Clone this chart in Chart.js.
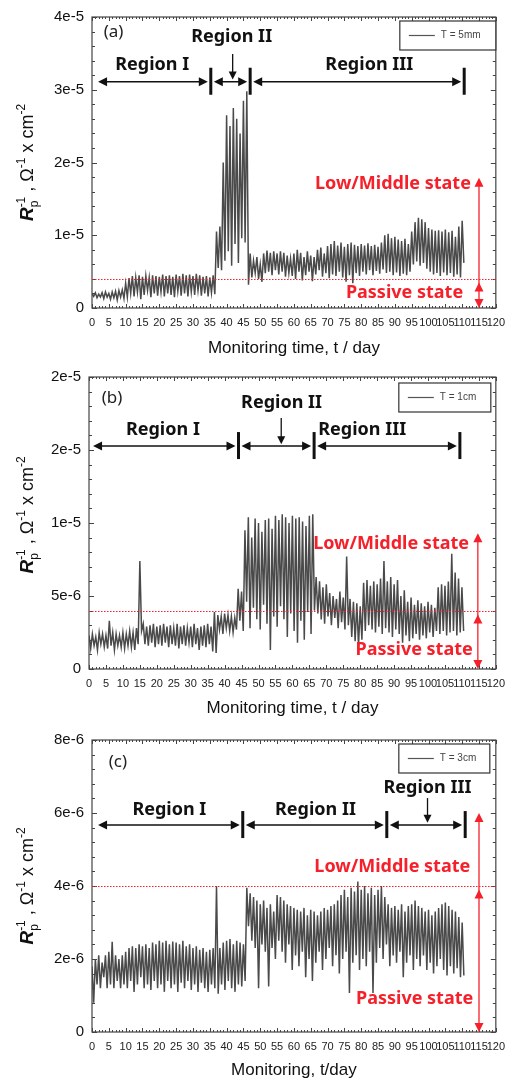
<!DOCTYPE html>
<html>
<head>
<meta charset="utf-8">
<script src="https://cdn.jsdelivr.net/npm/chart.js@4.4.0/dist/chart.umd.min.js"></script>
<style>
  html, body { margin: 0; padding: 0; background: #fff; }
  canvas { display: block; }
</style>
</head>
<body>
<canvas id="chartA" width="513" height="360"></canvas>
<canvas id="chartB" width="513" height="360"></canvas>
<canvas id="chartC" width="513" height="362"></canvas>
<script>
// monitoring day of each daily max / min reading
const days = [
  0, 1, 2, 3, 4, 5, 6, 7, 8, 9, 10, 11, 12, 13, 14, 15, 16, 17, 18, 19,
  20, 21, 22, 23, 24, 25, 26, 27, 28, 29, 30, 31, 32, 33, 34, 35, 36, 37, 38, 39,
  40, 41, 42, 43, 44, 45, 46, 47, 48, 49, 50, 51, 52, 53, 54, 55, 56, 57, 58, 59,
  60, 61, 62, 63, 64, 65, 66, 67, 68, 69, 70, 71, 72, 73, 74, 75, 76, 77, 78, 79,
  80, 81, 82, 83, 84, 85, 86, 87, 88, 89, 90, 91, 92, 93, 94, 95, 96, 97, 98, 99,
  100, 101, 102, 103, 104, 105, 106, 107, 108, 109, 110
];

// Rp^-1 values, in units of 1e-6 ohm^-1 cm^-2
const highA = [
  2.0, 2.1, 1.9, 2.1, 2.2, 2.0, 2.2, 2.3, 2.4, 2.5,
  3.4, 4.1, 4.4, 4.2, 4.5, 4.3, 4.4, 4.2, 4.5, 4.4,
  4.3, 4.6, 4.4, 4.5, 4.3, 4.6, 4.4, 4.7, 4.5, 4.6,
  4.4, 4.7, 4.5, 4.3, 4.4, 4.2, 4.5, 10.5, 11.2, 20.0,
  26.5, 25.0, 27.5, 26.0, 24.0, 28.5, 29.8, 7.5, 6.5, 7.0,
  6.0, 7.5, 7.9, 7.6, 7.8, 7.5, 7.8, 7.6, 7.2, 6.8,
  7.5, 8.0, 7.6, 7.0, 7.8, 7.2, 7.0, 8.0, 8.3, 7.5,
  8.5, 8.8, 9.2, 8.6, 9.0, 8.4, 8.8, 9.0, 8.7, 8.5,
  8.8, 8.6, 8.9, 8.5, 8.7, 8.4, 9.0, 10.0, 10.2, 9.6,
  9.8, 9.4, 9.2, 9.5, 8.8, 10.5, 11.8, 12.4, 12.2, 11.8,
  11.0, 10.8, 10.6, 10.7, 10.5, 10.8, 10.4, 10.6, 9.8, 11.2,
  12.0
];
const lowA = [
  1.6, 1.4, 1.5, 1.3, 1.5, 1.2, 1.4, 1.1, 1.5, 1.3,
  1.5, 2.0, 1.6, 2.2, 1.2, 1.8, 2.4, 1.5, 2.0, 1.7,
  2.2, 1.6, 2.0, 1.8, 1.5, 2.3, 1.7, 2.0, 1.6, 2.2,
  1.8, 2.4, 1.7, 2.0, 1.6, 2.1, 1.9, 5.5, 5.2, 6.5,
  7.8, 5.8, 8.8, 6.2, 9.6, 9.0, 3.2, 4.2, 4.8, 4.0,
  3.6, 4.8, 5.0, 4.5, 5.2, 4.6, 5.0, 4.3, 4.8, 4.4,
  4.0, 5.0, 3.8, 4.5, 5.0, 3.7, 4.6, 5.2, 4.3, 4.8,
  4.1, 4.6, 4.4, 5.0, 4.2, 3.6, 4.5, 3.4, 4.8, 4.4,
  5.0, 4.6, 5.2, 4.5, 5.1, 4.7, 5.3, 4.8, 5.0, 4.5,
  4.9, 4.4, 4.7, 4.5, 5.0, 6.0, 6.4, 5.8, 6.2, 5.4,
  5.0, 4.6, 4.8, 4.4, 4.9, 4.5, 4.8, 4.3, 4.6, 4.2,
  6.2
];
const highB = [
  2.3, 2.4, 2.2, 2.5, 2.4, 2.3, 3.3, 2.5, 2.4, 2.3,
  2.5, 2.4, 2.6, 2.5, 2.8, 7.4, 3.1, 2.9, 3.0, 3.1,
  2.9, 3.0, 3.1, 2.9, 3.0, 2.8, 3.1, 2.9, 3.0, 2.8,
  2.9, 3.1, 2.8, 2.9, 3.0, 3.1, 2.9, 3.9, 3.7, 3.6,
  3.8, 3.7, 3.6, 3.5, 5.5, 5.3, 9.5, 10.4, 9.0, 10.3,
  10.0, 9.4, 10.2, 10.3, 9.6, 10.5, 10.2, 10.6, 10.4, 10.0,
  10.5, 10.3, 10.4, 10.1, 9.8, 10.5, 10.6, 6.3, 6.0, 5.6,
  5.8, 5.2, 5.0, 4.8, 5.3, 4.9, 7.7, 4.8, 4.6, 4.5,
  4.3, 5.9, 6.1, 5.7, 6.0, 5.8, 6.2, 7.4, 6.0, 6.3,
  5.8, 6.1, 5.0, 5.4, 4.6, 4.9, 4.4, 4.7, 4.5, 4.3,
  4.6, 4.4, 4.2, 5.6, 5.8, 5.7, 6.0, 7.9, 6.6, 6.2,
  5.6
];
const lowB = [
  1.4, 1.6, 1.3, 1.7, 1.5, 1.4, 1.6, 1.3, 1.6, 1.5,
  1.4, 1.6, 1.5, 1.3, 1.7, 2.6, 1.7, 1.6, 1.8, 1.5,
  1.7, 1.6, 1.8, 1.5, 1.7, 1.6, 1.4, 1.7, 1.6, 1.8,
  1.5, 1.7, 1.3, 1.6, 1.5, 1.7, 1.2, 1.1, 2.7, 2.4,
  2.8, 2.6, 2.5, 2.7, 3.3, 2.6, 4.6, 2.8, 4.2, 3.4,
  2.7, 4.4, 3.1, 1.3, 3.6, 2.9, 4.3, 3.4, 2.2, 3.8,
  2.6, 1.8, 3.3, 2.0, 3.9, 2.4, 4.0, 3.8, 3.4, 3.1,
  3.6, 3.0, 3.5, 2.8, 3.2, 2.7, 3.0, 2.2, 1.9, 1.6,
  2.0, 2.6, 3.0, 2.7, 2.5, 2.9, 2.4, 2.8, 2.5, 2.2,
  2.7, 2.4, 1.8, 2.3, 1.9, 2.1, 2.4, 2.0, 2.3, 2.1,
  2.5, 2.2, 2.6, 2.4, 2.6, 2.3, 2.5, 2.6, 2.3, 2.5,
  2.6
];
const highC = [
  1.8, 2.0, 2.1, 1.9, 2.1, 2.2, 2.47, 2.1, 2.0, 2.1,
  2.2, 2.3, 2.35, 2.3, 2.4, 2.35, 2.4, 2.3, 2.45, 2.4,
  2.5, 2.45, 2.5, 2.4, 2.48, 2.45, 2.4, 2.5, 2.35, 2.4,
  2.3, 2.35, 2.25, 2.3, 2.2, 2.25, 2.3, 4.0, 2.3, 2.45,
  2.5, 2.55, 2.4, 2.5, 2.45, 2.4, 3.95, 3.8, 3.7, 3.6,
  3.5, 3.6, 3.4, 3.5, 3.3, 3.75, 3.7, 3.6, 3.5, 3.45,
  3.4, 3.35, 3.3, 3.4, 3.2, 3.35, 3.3, 3.2, 3.3, 3.4,
  3.35, 3.45, 3.5, 3.6, 3.75, 3.9, 3.7, 3.95, 3.85, 4.12,
  3.9, 4.0, 3.8, 3.95, 3.75, 3.9, 4.0, 3.7, 3.5, 3.4,
  3.45, 3.35, 3.5, 3.3, 3.45, 3.5, 3.6, 3.45, 3.4, 3.3,
  3.35, 3.2, 3.3, 3.4, 3.5, 3.55, 3.45, 3.35, 3.3, 3.15,
  3.0
];
const lowC = [
  0.8, 1.3, 1.2, 1.5, 1.2, 1.3, 1.2, 1.4, 1.2, 1.3,
  1.2, 1.4, 1.1, 1.3, 1.5, 1.2, 1.3, 1.15, 1.4, 1.2,
  1.3, 1.1, 1.4, 1.2, 1.3, 1.1, 1.35, 1.2, 1.4, 1.15,
  1.3, 1.1, 1.35, 1.2, 1.1, 1.3, 1.2, 1.05, 1.3, 1.15,
  1.4, 1.2, 1.1, 1.3, 1.25, 1.4, 2.9, 2.5, 2.3, 1.2,
  2.4, 2.2, 1.25, 2.3, 2.0, 2.5, 2.2, 1.9, 2.4, 1.7,
  2.1, 1.8, 2.2, 1.5, 2.0, 1.4, 1.9, 2.2, 1.7, 2.0,
  2.3, 1.8, 2.1, 1.6, 2.0, 2.2, 1.07, 1.9, 2.1, 1.7,
  2.0, 1.8, 2.2, 1.07, 1.9, 2.3, 2.0, 2.4, 1.8, 2.1,
  1.9, 2.2, 1.5, 1.9, 2.1, 1.7, 2.0, 1.8, 2.1, 1.7,
  1.9, 1.6, 1.8, 2.0, 1.7, 1.55, 1.8, 1.6, 1.75, 1.5,
  1.55
];

// axis ticks
const xTicks = [0, 5, 10, 15, 20, 25, 30, 35, 40, 45, 50, 55, 60, 65, 70, 75, 80, 85, 90, 95, 100, 105, 110, 115, 120];
const xTickLabels = ['0', '5', '10', '15', '20', '25', '30', '35', '40', '45', '50', '55', '60', '65', '70', '75', '80', '85', '90', '95', '100', '105', '110', '115', '120'];
const yTicksA = [0, 10, 20, 30, 40];
const yTickLabelsA = ['0', '1e-5', '2e-5', '3e-5', '4e-5'];
const yTicksB = [0, 5, 10, 15, 20];
const yTickLabelsB = ['0', '5e-6', '1e-5', '2e-5', '2e-5'];
const yTicksC = [0, 2, 4, 6, 8];
const yTickLabelsC = ['0', '2e-6', '4e-6', '6e-6', '8e-6'];

// region boundaries (day) and the passive / active threshold
const regionNames = ['Region I', 'Region II', 'Region III'];
const regionDaysA = [1.8, 35.3, 47, 110.6];
const regionDaysB = [1.2, 44.1, 66.4, 109.4];
const regionDaysC = [1.8, 44.8, 87.6, 110.9];
const passiveLimit = 4;

const SANS = 'Arial, "Liberation Sans", sans-serif';
const LABEL = '"Noto Sans", "Noto Sans CJK KR", sans-serif';
const RED = '#f5202a';

function head(ctx, x, y, dir, len, w) {
  ctx.beginPath();
  if (dir === 'r') { ctx.moveTo(x, y); ctx.lineTo(x - len, y - w); ctx.lineTo(x - len, y + w); }
  if (dir === 'l') { ctx.moveTo(x, y); ctx.lineTo(x + len, y - w); ctx.lineTo(x + len, y + w); }
  if (dir === 'u') { ctx.moveTo(x, y); ctx.lineTo(x - w, y + len); ctx.lineTo(x + w, y + len); }
  if (dir === 'd') { ctx.moveTo(x, y); ctx.lineTo(x - w, y - len); ctx.lineTo(x + w, y - len); }
  ctx.closePath();
  ctx.fill();
}

function line(ctx, x1, y1, x2, y2) {
  ctx.beginPath();
  ctx.moveTo(x1, y1);
  ctx.lineTo(x2, y2);
  ctx.stroke();
}

function drawYTitle(ctx, x, y) {
  const big = '18px ' + SANS, small = '12px ' + SANS;
  const parts = [
    { t: 'R', f: 'italic bold 19px ' + SANS, dy: 0 },
    { t: 'p', f: small, dy: 5, stackWith: '-1' },
    { t: ' , Ω', f: big, dy: 0 },
    { t: '-1', f: small, dy: -8 },
    { t: ' x cm', f: big, dy: 0 },
    { t: '-2', f: small, dy: -8 }
  ];
  ctx.save();
  let total = 0;
  const widths = parts.map(p => {
    ctx.font = p.f;
    let w = ctx.measureText(p.t).width;
    if (p.stackWith) w = Math.max(w, ctx.measureText(p.stackWith).width);
    total += w;
    return w;
  });
  ctx.translate(x, y);
  ctx.rotate(-Math.PI / 2);
  ctx.fillStyle = '#111';
  ctx.textBaseline = 'alphabetic';
  ctx.textAlign = 'left';
  let cx = -total / 2;
  parts.forEach((p, i) => {
    ctx.font = p.f;
    ctx.fillText(p.t, cx, p.dy);
    if (p.stackWith) ctx.fillText(p.stackWith, cx, -8);
    cx += widths[i];
  });
  ctx.restore();
}

function makeDecor(cfg) {
  return {
    id: 'decor',
    afterDraw(chart) {
      const ctx = chart.ctx;
      const a = chart.chartArea;
      const xs = chart.scales.x, ys = chart.scales.y;
      const px = d => xs.getPixelForValue(d);
      const py = v => ys.getPixelForValue(v);
      ctx.save();

      // frame and minor ticks
      ctx.strokeStyle = '#444';
      ctx.lineWidth = 1.2;
      ctx.strokeRect(a.left, a.top, a.right - a.left, a.bottom - a.top);
      ctx.lineWidth = 1;
      for (let d = 0; d <= 120; d++) {
        const x = Math.round(px(d)) + 0.5;
        const len = d % 5 === 0 ? 4 : 2;
        line(ctx, x, a.bottom, x, a.bottom - len);
        line(ctx, x, a.top, x, a.top + len);
      }
      const yStep = (cfg.yTicks[1] - cfg.yTicks[0]) / 5;
      const yMax = cfg.yTicks[cfg.yTicks.length - 1];
      for (let i = 0; i * yStep <= yMax + 1e-9; i++) {
        const y = Math.round(py(i * yStep)) + 0.5;
        const len = i % 5 === 0 ? 5 : 3;
        line(ctx, a.left, y, a.left + len, y);
        line(ctx, a.right, y, a.right - len, y);
      }

      // passive threshold
      ctx.strokeStyle = RED;
      ctx.lineWidth = 1;
      ctx.setLineDash([1.5, 1.5]);
      const yTh = Math.round(py(passiveLimit)) + 0.5;
      line(ctx, a.left, yTh, a.right, yTh);
      ctx.setLineDash([]);

      // region arrows
      ctx.strokeStyle = '#111';
      ctx.fillStyle = '#111';
      ctx.lineWidth = 1.5;
      const yA = py(cfg.arrowVal);
      const b = cfg.bounds.map(px);
      for (let i = 0; i < b.length - 1; i++) {
        const x1 = b[i] + (i > 0 ? 3 : 0);
        const x2 = b[i + 1] - 3;
        line(ctx, x1 + 4, yA, x2 - 4, yA);
        head(ctx, x1, yA, 'l', 9, 4.5);
        head(ctx, x2, yA, 'r', 9, 4.5);
      }
      ctx.lineWidth = 3;
      for (let i = 1; i < b.length; i++) {
        line(ctx, b[i], yA - 14, b[i], yA + 13);
      }
      ctx.lineWidth = 1.3;
      const dn = cfg.down;
      line(ctx, px(dn.d), py(dn.v1), px(dn.d), py(dn.v2) - 6);
      head(ctx, px(dn.d), py(dn.v2), 'd', 8, 4);

      // region labels
      ctx.font = 'bold 18px ' + LABEL;
      ctx.textAlign = 'center';
      ctx.textBaseline = 'middle';
      cfg.labels.forEach(l => ctx.fillText(l.t, px(l.d), py(l.v)));
      ctx.font = '17px ' + LABEL;
      ctx.fillStyle = '#222';
      ctx.fillText(cfg.panel.t, px(cfg.panel.d), py(cfg.panel.v));

      // state arrow
      ctx.strokeStyle = RED;
      ctx.fillStyle = RED;
      ctx.lineWidth = 1.3;
      const xr = px(cfg.red.d);
      line(ctx, xr, py(cfg.red.top) + 6, xr, a.bottom - 6);
      head(ctx, xr, py(cfg.red.top), 'u', 9, 4.5);
      head(ctx, xr, yTh + 3, 'u', 9, 4.5);
      head(ctx, xr, a.bottom, 'd', 9, 4.5);
      ctx.font = 'bold 18px ' + LABEL;
      ctx.textAlign = 'right';
      ctx.fillText('Low/Middle state', px(cfg.lowText.d), py(cfg.lowText.v));
      ctx.fillText('Passive state', px(cfg.passText.d), py(cfg.passText.v));

      // legend
      const lg = cfg.legend;
      const bx = a.right - lg.dr - lg.w, by = a.top + lg.dt;
      ctx.strokeStyle = '#333';
      ctx.lineWidth = 1.2;
      ctx.fillStyle = '#fff';
      ctx.fillRect(bx, by, lg.w, lg.h);
      ctx.strokeRect(bx, by, lg.w, lg.h);
      ctx.strokeStyle = '#555';
      ctx.lineWidth = 1.2;
      line(ctx, bx + 9, by + lg.h / 2, bx + 35, by + lg.h / 2);
      ctx.fillStyle = '#444';
      ctx.font = '10px ' + SANS;
      ctx.textAlign = 'left';
      ctx.fillText(lg.text, bx + 41, by + lg.h / 2);

      drawYTitle(ctx, 33, (a.top + a.bottom) / 2 + cfg.titleShift);
      ctx.restore();
    }
  };
}

function buildChart(id, cfg) {
  const pts = [];
  days.forEach((d, i) => {
    pts.push({ x: d, y: cfg.high[i] });
    pts.push({ x: d + 0.5, y: cfg.low[i] });
  });
  return new Chart(document.getElementById(id), {
    type: 'line',
    data: {
      datasets: [{
        data: pts,
        borderColor: '#4a4a4a',
        borderWidth: 1.5,
        pointRadius: 0,
        tension: 0,
        fill: false
      }]
    },
    options: {
      responsive: false,
      animation: false,
      events: [],
      layout: { padding: cfg.pad },
      plugins: { legend: { display: false }, tooltip: { enabled: false } },
      scales: {
        x: {
          type: 'linear',
          min: 0,
          max: 120,
          afterBuildTicks: s => { s.ticks = xTicks.map(v => ({ value: v })); },
          afterFit: s => { s.height = cfg.xH; },
          grid: { display: false, drawTicks: false },
          border: { display: false },
          ticks: {
            autoSkip: false,
            maxRotation: 0,
            padding: 8,
            color: '#222',
            font: { size: 11, family: SANS },
            callback: (v, i) => xTickLabels[i]
          },
          title: {
            display: true,
            text: cfg.xTitle,
            color: '#111',
            font: { size: 17, family: SANS },
            padding: { top: 0, bottom: cfg.titlePad }
          }
        },
        y: {
          min: 0,
          max: cfg.yTicks[cfg.yTicks.length - 1],
          afterBuildTicks: s => { s.ticks = cfg.yTicks.map(v => ({ value: v })); },
          afterFit: s => { s.width = 45; },
          grid: { display: false, drawTicks: false },
          border: { display: false },
          ticks: {
            padding: 8,
            color: '#111',
            font: { size: 15, family: SANS },
            callback: (v, i) => cfg.yLabels[i]
          }
        }
      }
    },
    plugins: [makeDecor(cfg)]
  });
}

buildChart('chartA', {
  high: highA, low: lowA, yTicks: yTicksA, yLabels: yTickLabelsA,
  pad: { left: 47, right: 13, top: 15, bottom: 0 }, xH: 52, titlePad: 1,
  xTitle: 'Monitoring time, t / day', titleShift: 0,
  bounds: regionDaysA, arrowVal: 31.1,
  labels: [
    { t: regionNames[0], d: 17.9, v: 33.4 },
    { t: regionNames[1], d: 41.5, v: 37.2 },
    { t: regionNames[2], d: 82.4, v: 33.4 }
  ],
  down: { d: 41.8, v1: 34.9, v2: 31.4 },
  panel: { t: '(a)', d: 6.4, v: 37.9 },
  red: { d: 115, top: 17.9 },
  lowText: { d: 112.6, v: 17.05 },
  passText: { d: 110.3, v: 2.05 },
  legend: { text: 'T = 5mm', dr: 0, dt: 4, w: 96, h: 29 }
});

buildChart('chartB', {
  high: highB, low: lowB, yTicks: yTicksB, yLabels: yTickLabelsB,
  pad: { left: 44, right: 16, top: 17, bottom: 0 }, xH: 51, titlePad: 1,
  xTitle: 'Monitoring time, t / day', titleShift: -8,
  bounds: regionDaysB, arrowVal: 15.27,
  labels: [
    { t: regionNames[0], d: 21.8, v: 16.4 },
    { t: regionNames[1], d: 56.8, v: 18.2 },
    { t: regionNames[2], d: 80.6, v: 16.4 }
  ],
  down: { d: 56.7, v1: 17.2, v2: 15.4 },
  panel: { t: '(b)', d: 6.8, v: 18.56 },
  red: { d: 114.7, top: 9.3 },
  lowText: { d: 112.1, v: 8.56 },
  passText: { d: 113.2, v: 1.3 },
  legend: { text: 'T = 1cm', dr: 5, dt: 6, w: 92, h: 29 }
});

buildChart('chartC', {
  high: highC, low: lowC, yTicks: yTicksC, yLabels: yTickLabelsC,
  pad: { left: 47, right: 14, top: 20, bottom: 0 }, xH: 50, titlePad: 1,
  xTitle: 'Monitoring, t/day', titleShift: 0,
  bounds: regionDaysC, arrowVal: 5.67,
  labels: [
    { t: regionNames[0], d: 23, v: 6.08 },
    { t: regionNames[1], d: 66.4, v: 6.08 },
    { t: regionNames[2], d: 99.7, v: 6.68 }
  ],
  down: { d: 99.7, v1: 6.41, v2: 5.73 },
  panel: { t: '(c)', d: 7.7, v: 7.4 },
  red: { d: 115, top: 6.0 },
  lowText: { d: 112.4, v: 4.52 },
  passText: { d: 113.3, v: 0.9 },
  legend: { text: 'T = 3cm', dr: 6, dt: 4, w: 91, h: 29 }
});
</script>
</body>
</html>
